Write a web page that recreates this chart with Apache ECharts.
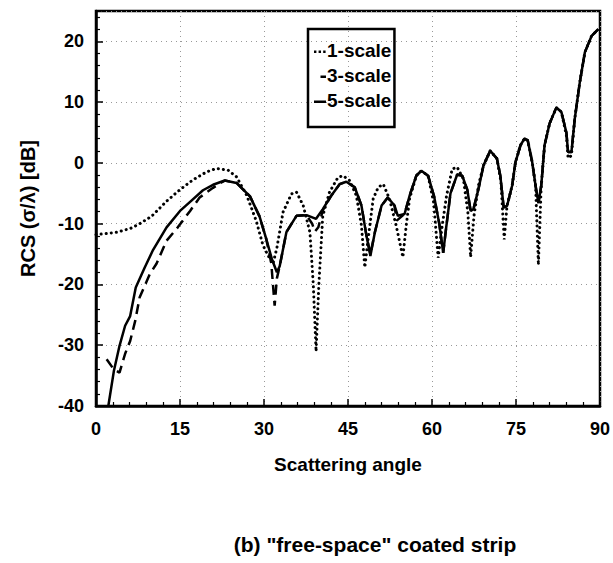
<!DOCTYPE html>
<html>
<head>
<meta charset="utf-8">
<script src="https://cdn.jsdelivr.net/npm/echarts@6/dist/echarts.min.js"></script>
<style>
html,body{margin:0;padding:0;background:#fff;}
#chart{width:613px;height:563px;}
</style>
</head>
<body>
<div id="chart"></div>
<script>
// ---- data ----
const xTicks = [0, 15, 30, 45, 60, 75, 90];
const yTicks = [-40, -30, -20, -10, 0, 10, 20];

const scale1Angles = [0, 2, 3.7, 6.1, 7.8, 9.9, 12.6, 15, 17.3, 19.7, 21.5, 23.6, 25.1, 26.9, 28.6, 29.8, 30.7, 31.6, 32.3, 33.4, 34.9, 35.8, 37, 38.2, 38.8, 39.3, 39.8, 40.5, 41.7, 43.2, 44.1, 45.3, 46.5, 47.4, 48, 48.6, 49.5, 50.4, 51.3, 52.4, 53.6, 54.8, 55.4, 56, 57.2, 58.1, 59.3, 60.3, 61.1, 61.8, 62.6, 63.6, 64.5, 65.6, 66.4, 66.9, 67.5, 68.3, 69.2, 70.4, 71.6, 72.3, 72.9, 73.4, 74.3, 74.9, 75.8, 76.5, 77.1, 77.9, 78.5, 79, 79.5, 80.1, 81, 82.2, 83.1, 84, 84.3, 84.9, 85.5, 86.4, 87.3, 88.5, 89.7];
const scale1Values = [-11.8, -11.6, -11.4, -10.8, -10.0, -8.8, -6.3, -4.4, -2.8, -1.5, -0.9, -1.2, -2.3, -5.3, -9.5, -13.5, -15.2, -16.6, -14.0, -8.1, -5.1, -4.8, -7.0, -11.4, -20, -31, -20, -8.7, -4.8, -2.4, -2.1, -2.9, -5.4, -10.3, -17.2, -12.5, -5.9, -4.0, -3.5, -5.9, -10.3, -15.5, -10.3, -5.9, -2.1, -1.3, -2.1, -6.5, -15.6, -10.5, -5.4, -1.0, -0.7, -2.6, -8.1, -15.5, -8.7, -3.7, -0.4, 2.0, 0.7, -3.0, -12.6, -7.0, -3.8, 0.1, 2.9, 4.0, 3.7, 0.1, -3.8, -16.8, -4.0, 2.9, 6.5, 9.1, 8.4, 4.5, 0.8, 1.2, 7.3, 13.3, 18.2, 20.9, 22.0];

const scale3Angles = [1.9, 3.2, 4.2, 5.2, 6.1, 7, 7.8, 9.6, 10.8, 12.6, 14.6, 16.8, 18.5, 20.9, 22.4, 23, 25.1, 27.5, 29.2, 30.4, 31.3, 31.9, 32.3, 32.8, 34, 35.8, 37.6, 38.6, 39.1, 39.7, 40.5, 42, 43.5, 44.7, 46.2, 47.4, 48.3, 49, 49.8, 51, 52.1, 53.3, 53.7, 55.1, 56, 57.2, 58.1, 59.3, 60.4, 61.3, 62, 62.5, 63.3, 64.5, 65.4, 66.3, 66.9, 67.4, 68.3, 69.2, 70.4, 71.6, 72.2, 72.8, 73.4, 74.3, 74.9, 75.8, 76.5, 77.1, 77.9, 78.5, 79, 79.5, 80.1, 81, 82.2, 83.1, 84, 84.3, 84.9, 85.5, 86.4, 87.3, 88.5, 89.7];
const scale3Values = [-32.3, -34.0, -34.5, -31.4, -29.3, -26, -22.1, -18.3, -16.6, -12.8, -10.6, -7.9, -5.7, -4.1, -3.2, -2.9, -3.3, -5.5, -8.8, -12.5, -16.5, -23.5, -19, -17.0, -11.4, -8.7, -8.6, -10, -11.3, -10.6, -7.8, -5.4, -3.5, -3.1, -4.0, -7.0, -12.0, -15.0, -11.4, -7.0, -5.7, -7.0, -9.5, -8.4, -5.4, -2.1, -1.3, -2.1, -5.6, -10.0, -14.8, -10.9, -5.0, -1.9, -2.1, -4.4, -7.9, -7.6, -4.3, -0.4, 2.0, 0.7, -2.1, -7.3, -7.1, -3.8, 0.1, 2.9, 4.0, 3.7, 0.1, -3.8, -6.6, -3.8, 2.9, 6.5, 9.1, 8.4, 5.0, 1.8, 1.8, 7.3, 13.3, 18.2, 20.9, 22.0];

const scale5Angles = [2.2, 3.2, 4.2, 5.2, 6.1, 7.1, 8.7, 10.2, 12.6, 15, 16.8, 19.1, 20.9, 23, 25.1, 27.5, 29.2, 30.4, 31.4, 32.3, 32.8, 34, 35.8, 37.6, 39.3, 40.5, 42, 43.5, 44.7, 46.2, 47.4, 48.3, 49, 49.8, 51, 52.1, 53.3, 53.9, 55.1, 56, 57.2, 58.1, 59.3, 60.4, 61.3, 62, 62.5, 63.3, 64.5, 65.4, 66.3, 66.9, 67.4, 68.3, 69.2, 70.4, 71.6, 72.2, 72.8, 73.4, 74.3, 74.9, 75.8, 76.5, 77.1, 77.9, 78.5, 79, 79.5, 80.1, 81, 82.2, 83.1, 84, 84.3, 84.9, 85.5, 86.4, 87.3, 88.5, 89.7];
const scale5Values = [-40, -34.2, -30.1, -26.8, -25.2, -20.5, -17.2, -14.3, -10.6, -7.9, -6.4, -4.5, -3.6, -2.9, -3.3, -5.5, -8.8, -12.5, -15.8, -18.0, -17.0, -11.4, -8.7, -8.6, -9.2, -7.6, -5.4, -3.5, -3.1, -4.0, -7.0, -12.0, -15.3, -11.4, -7.0, -5.7, -7.0, -8.7, -8.4, -5.4, -2.1, -1.3, -2.1, -5.6, -10.0, -14.8, -10.9, -5.0, -1.9, -2.1, -4.4, -7.9, -7.6, -4.3, -0.4, 2.0, 0.7, -2.1, -7.3, -7.1, -3.8, 0.1, 2.9, 4.0, 3.7, 0.1, -3.8, -6.6, -3.8, 2.9, 6.5, 9.1, 8.4, 5.0, 1.8, 1.8, 7.3, 13.3, 18.2, 20.9, 22.0];

const seriesNames = ['1-scale', '3-scale', '5-scale'];
const xAxisName = 'Scattering angle';
const yAxisName = 'RCS (σ/λ) [dB]';
const captionText = '(b) "free-space" coated strip';

function zip(a, b) { return a.map((v, i) => [v, b[i]]); }

// legend sample glyphs (dots / short dash / long dash), with a tiny corner anchor so the box is 12x20
const ANCHOR = 'M0,0h0.01v0.01z M12,20h0.01v0.01z ';
const legendIcons = [
  'path://' + ANCHOR + 'M0,9.5h2.4v2.4h-2.4z M4.6,9.5h2.4v2.4h-2.4z M9.2,9.5h2.4v2.4h-2.4z',
  'path://' + ANCHOR + 'M6.5,9.5h5.5v2.4h-5.5z',
  'path://' + ANCHOR + 'M0,9.5h12v2.4h-12z'
];

const FONT = '"Liberation Sans", Arial, sans-serif';

const chart = echarts.init(document.getElementById('chart'), null, { renderer: 'svg' });
chart.setOption({
  animation: false,
  backgroundColor: '#fff',
  grid: {
    left: 96, right: 12, top: 11, bottom: 157,
    show: true, borderColor: '#000', borderWidth: 2.5, backgroundColor: 'transparent'
  },
  title: {
    text: captionText,
    left: 370, top: 529, textAlign: 'center',
    textStyle: { fontFamily: FONT, fontSize: 21, fontWeight: 'bold', color: '#000' }
  },
  legend: {
    orient: 'vertical',
    left: 308, top: 29,
    data: seriesNames.map((n, i) => ({ name: n, icon: legendIcons[i] })),
    borderColor: '#000', borderWidth: 2.5,
    padding: [12, 3, 16, 6],
    itemGap: 5,
    itemWidth: 12, itemHeight: 22,
    symbolKeepAspect: true,
    textStyle: { fontFamily: FONT, fontSize: 19, fontWeight: 'bold', color: '#000', padding: [0, 0, 0, -4] }
  },
  xAxis: {
    type: 'value', min: 0, max: 90, interval: 15,
    name: xAxisName, nameLocation: 'middle', nameGap: 49,
    nameTextStyle: { fontFamily: FONT, fontSize: 19, fontWeight: 'bold', color: '#000' },
    axisLine: { show: true, onZero: false, lineStyle: { color: '#000', width: 2.5 } },
    axisTick: { show: true, inside: true, length: 7, lineStyle: { color: '#000', width: 1.5 } },
    minorTick: { show: true, splitNumber: 5, length: 4, lineStyle: { color: '#000', width: 1.2 } },
    axisLabel: { fontFamily: FONT, fontSize: 18, fontWeight: 'bold', color: '#000', margin: 14,
      formatter: (v) => xTicks.indexOf(v) >= 0 ? String(v) : '' },
    splitLine: { show: true, lineStyle: { color: '#999', type: [1, 4], width: 1 } }
  },
  yAxis: {
    type: 'value', min: -40, max: 25, interval: 10,
    name: yAxisName, nameLocation: 'middle', nameGap: 58, nameRotate: 90,
    nameTextStyle: { fontFamily: FONT, fontSize: 20, fontWeight: 'bold', color: '#000' },
    axisLine: { show: true, onZero: false, lineStyle: { color: '#000', width: 2.5 } },
    axisTick: { show: true, inside: true, length: 7, lineStyle: { color: '#000', width: 1.5 } },
    minorTick: { show: true, splitNumber: 5, length: 4, lineStyle: { color: '#000', width: 1.2 } },
    axisLabel: { fontFamily: FONT, fontSize: 18, fontWeight: 'bold', color: '#000', margin: 12,
      formatter: (v) => yTicks.indexOf(v) >= 0 ? String(v) : '' },
    splitLine: { show: true, lineStyle: { color: '#999', type: [1, 4], width: 1 } }
  },
  series: [
    {
      name: seriesNames[0], type: 'line', showSymbol: false, symbol: 'none', z: 3,
      data: zip(scale1Angles, scale1Values),
      lineStyle: { color: '#000', width: 3, type: [0.1, 5], cap: 'round' },
      itemStyle: { color: '#000' }
    },
    {
      name: seriesNames[1], type: 'line', showSymbol: false, symbol: 'none', z: 4,
      data: zip(scale3Angles, scale3Values),
      lineStyle: { color: '#000', width: 2.5, type: [10, 6] },
      itemStyle: { color: '#000' }
    },
    {
      name: seriesNames[2], type: 'line', showSymbol: false, symbol: 'none', z: 5,
      data: zip(scale5Angles, scale5Values),
      lineStyle: { color: '#000', width: 2.5, type: 'solid' },
      itemStyle: { color: '#000' }
    }
  ]
});
</script>
</body>
</html>
